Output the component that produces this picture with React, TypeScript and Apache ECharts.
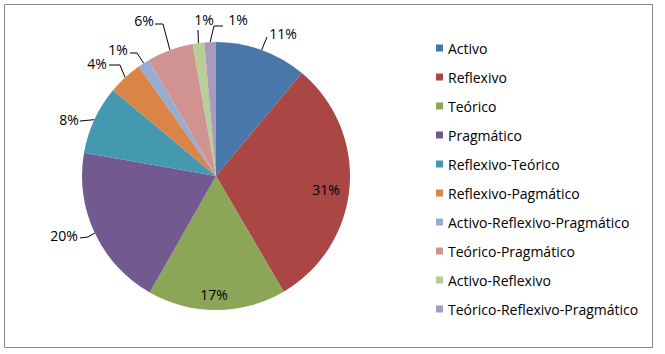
import React, { useEffect, useRef } from "react";
import * as echarts from "echarts";

const categories = [
  "Activo",
  "Reflexivo",
  "Teórico",
  "Pragmático",
  "Reflexivo-Teórico",
  "Reflexivo-Pagmático",
  "Activo-Reflexivo-Pragmático",
  "Teórico-Pragmático",
  "Activo-Reflexivo",
  "Teórico-Reflexivo-Pragmático",
];
const values = [11.1, 30.6, 16.7, 19.6, 8.3, 4.2, 1.4, 5.6, 1.4, 1.4];
const colors = [
  "#4A77AA",
  "#AA4644",
  "#8BA656",
  "#725A90",
  "#4498AF",
  "#DA8445",
  "#95ADD5",
  "#D09392",
  "#B9CD96",
  "#A99BBD",
];
const insideLabels = ["Reflexivo", "Teórico"];

const FONT = "'Open Sans', Lato, sans-serif";

// Excel-like "best fit" label placement: label centre and leader-line bends
const labelSpots: { c: number[]; bends: number[][] }[] = [
  { c: [283, 33], bends: [[267, 37]] },
  { c: [326, 189], bends: [] },
  { c: [214, 294], bends: [] },
  { c: [64, 235], bends: [[88, 237], [80, 238]] },
  { c: [69, 119], bends: [[80, 121]] },
  { c: [97, 63], bends: [[120, 65], [109, 65]] },
  { c: [118, 49], bends: [[137, 53], [130, 53]] },
  { c: [144, 20], bends: [[163, 24], [155, 24]] },
  { c: [204, 19], bends: [[198, 30]] },
  { c: [238, 19], bends: [[214, 26], [223, 26]] },
];

export default function App() {
  const ref = useRef<HTMLDivElement>(null);
  useEffect(() => {
    document.body.style.margin = "0";
    const chart = echarts.init(ref.current!, null, { renderer: "svg" });
    const data = categories.map((name, i) => {
      const inside = insideLabels.includes(name);
      return {
        name,
        value: values[i],
        itemStyle: { color: colors[i] },
        label: inside ? { position: "inside" } : { position: "outside" },
        labelLine: { show: !inside },
      };
    });
    chart.setOption({
      animation: false,
      backgroundColor: "#fff",
      graphic: [
        {
          type: "rect",
          shape: { x: 4.5, y: 4.5, width: 648, height: 343 },
          style: { fill: "none", stroke: "#878787", lineWidth: 1 },
          silent: true,
        },
      ],
      legend: {
        orient: "vertical",
        left: 431,
        top: 35,
        icon: "rect",
        itemWidth: 7,
        itemHeight: 7,
        itemGap: 13,
        data: categories,
        textStyle: { fontFamily: FONT, fontSize: 14, color: "#000", lineHeight: 16 },
      },
      series: [
        {
          type: "pie",
          center: [216, 176],
          radius: 134,
          startAngle: 90,
          clockwise: true,
          avoidLabelOverlap: false,
          data,
          label: {
            fontFamily: FONT,
            fontSize: 14,
            color: "#000",
            formatter: (p: any) => Math.round(p.percent) + "%",
          },
          labelLine: {
            length: 10,
            length2: 8,
            lineStyle: { color: "#000", width: 1 },
          },
          labelLayout: (p: any) => {
            const s = labelSpots[p.dataIndex];
            const out: any = {
              x: s.c[0],
              y: s.c[1],
              align: "center",
              verticalAlign: "middle",
            };
            if (s.bends.length && p.labelLinePoints) {
              const pts = [p.labelLinePoints[0], ...s.bends];
              while (pts.length < 3) pts.push(pts[pts.length - 1]);
              out.labelLinePoints = pts;
            }
            return out;
          },
        },
      ],
    });
    return () => chart.dispose();
  }, []);
  return <div ref={ref} style={{ width: 665, height: 354 }} />;
}
